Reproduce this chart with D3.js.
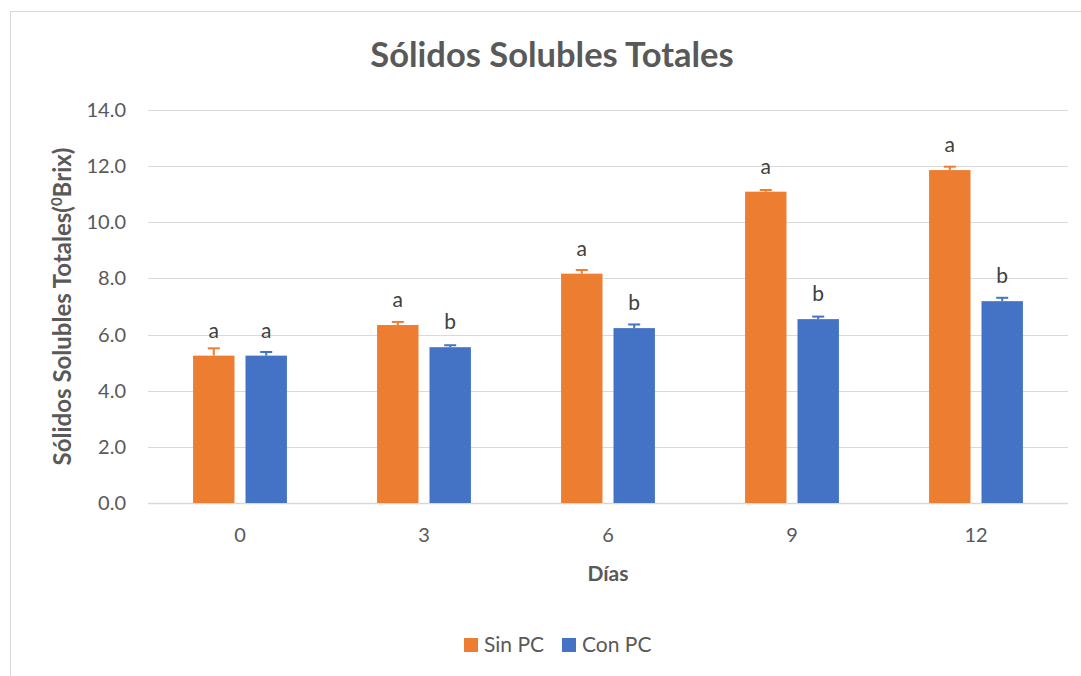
<!DOCTYPE html>
<html lang="es">
<head>
    <meta charset="utf-8" />
    <title>Sólidos Solubles Totales</title>
    <script src="https://d3js.org/d3.v7.min.js"></script>
    <style>
        body {
            margin: 0;
            padding: 0;
            background: white;
        }
        svg text {
            font-family: Lato, "Open Sans", sans-serif;
        }
    </style>
</head>
<body>
<svg id="chart"></svg>
<script>
    var w = 1081;
    var h = 676;

    // Data
    var dias = ["0", "3", "6", "9", "12"];
    var seriesNames = ["Sin PC", "Con PC"];
    var sinPC = [5.25, 6.34, 8.17, 11.09, 11.86];
    var conPC = [5.25, 5.55, 6.23, 6.55, 7.19];
    var sinErr = [0.26, 0.11, 0.13, 0.06, 0.12];
    var conErr = [0.13, 0.07, 0.13, 0.09, 0.12];
    var sinLetters = ["a", "a", "a", "a", "a"];
    var conLetters = ["a", "b", "b", "b", "b"];
    var yTicks = [0, 2, 4, 6, 8, 10, 12, 14];
    var colors = ["#ED7D31", "#4472C4"];

    var plot = {left: 148, right: 1068, top: 110, bottom: 503};

    var svg = d3.select("#chart")
                .attr("width", w)
                .attr("height", h);

    // Outer chart border (only top and left visible in picture)
    svg.append("rect")
        .attr("x", 10.5)
        .attr("y", 11.5)
        .attr("width", w + 20)
        .attr("height", h + 20)
        .attr("fill", "white")
        .attr("stroke", "#d9d9d9")
        .attr("stroke-width", 1);

    var xScale = d3.scaleBand()
                .domain(dias)
                .range([plot.left, plot.right])
                .paddingInner(0.49)
                .paddingOuter(0.245);

    var xSub = d3.scaleBand()
                .domain(seriesNames)
                .range([0, xScale.bandwidth()])
                .paddingInner(0.21);

    var yScale = d3.scaleLinear()
                .domain([0, 14])
                .range([plot.bottom, plot.top]);

    // Gridlines
    svg.append("g")
        .selectAll("line")
        .data(yTicks)
        .enter().append("line")
        .attr("x1", plot.left)
        .attr("x2", plot.right)
        .attr("y1", function(d) { return Math.round(yScale(d)) + 0.5; })
        .attr("y2", function(d) { return Math.round(yScale(d)) + 0.5; })
        .attr("stroke", "#d9d9d9")
        .attr("stroke-width", function(d) { return d === 0 ? 1.5 : 1; });

    // Y tick labels
    svg.append("g")
        .selectAll("text")
        .data(yTicks)
        .enter().append("text")
        .attr("x", 126)
        .attr("y", function(d) { return yScale(d); })
        .attr("dy", "0.35em")
        .attr("text-anchor", "end")
        .attr("font-size", "20px")
        .attr("fill", "#595959")
        .text(function(d) { return d.toFixed(1); });

    // X tick labels
    svg.append("g")
        .selectAll("text")
        .data(dias)
        .enter().append("text")
        .attr("x", function(d) { return xScale(d) + xScale.bandwidth() / 2; })
        .attr("y", 542)
        .attr("text-anchor", "middle")
        .attr("font-size", "20px")
        .attr("fill", "#595959")
        .text(function(d) { return d; });

    // Build table for the bars
    var rows = [];
    dias.forEach(function(d, i) {
        rows.push({dia: d, serie: "Sin PC", v: sinPC[i], err: sinErr[i], letter: sinLetters[i], color: colors[0]});
        rows.push({dia: d, serie: "Con PC", v: conPC[i], err: conErr[i], letter: conLetters[i], color: colors[1]});
    });

    function barX(d) {
        return xScale(d.dia) + xSub(d.serie);
    }
    function barMid(d) {
        return barX(d) + xSub.bandwidth() / 2;
    }

    // Bars
    svg.append("g")
        .selectAll("rect")
        .data(rows)
        .enter().append("rect")
        .attr("x", barX)
        .attr("y", function(d) { return yScale(d.v); })
        .attr("width", xSub.bandwidth())
        .attr("height", function(d) { return plot.bottom - yScale(d.v); })
        .attr("fill", function(d) { return d.color; });

    // Error bars (plus only)
    var eb = svg.append("g");
    eb.selectAll(".stem")
        .data(rows)
        .enter().append("line")
        .attr("x1", barMid)
        .attr("x2", barMid)
        .attr("y1", function(d) { return yScale(d.v); })
        .attr("y2", function(d) { return yScale(d.v + d.err); })
        .attr("stroke", function(d) { return d.color; })
        .attr("stroke-width", 2);
    eb.selectAll(".cap")
        .data(rows)
        .enter().append("line")
        .attr("x1", function(d) { return barMid(d) - 6; })
        .attr("x2", function(d) { return barMid(d) + 6; })
        .attr("y1", function(d) { return yScale(d.v + d.err); })
        .attr("y2", function(d) { return yScale(d.v + d.err); })
        .attr("stroke", function(d) { return d.color; })
        .attr("stroke-width", 2);

    // Significance letters
    svg.append("g")
        .selectAll("text")
        .data(rows)
        .enter().append("text")
        .attr("x", barMid)
        .attr("y", function(d) { return yScale(d.v) - 18; })
        .attr("text-anchor", "middle")
        .attr("font-size", "21px")
        .attr("fill", "#404040")
        .text(function(d) { return d.letter; });

    // Title
    svg.append("text")
        .attr("x", 552)
        .attr("y", 67)
        .attr("text-anchor", "middle")
        .attr("font-size", "34.5px")
        .attr("font-weight", "bold")
        .attr("fill", "#595959")
        .text("Sólidos Solubles Totales");

    // Y axis title with superscript 0
    var yTitle = svg.append("text")
        .attr("transform", "translate(71," + ((plot.top + plot.bottom) / 2) + ") rotate(-90)")
        .attr("text-anchor", "middle")
        .attr("font-size", "24px")
        .attr("font-weight", "bold")
        .attr("fill", "#595959");
    yTitle.append("tspan").text("Sólidos Solubles Totales(");
    yTitle.append("tspan")
        .attr("font-size", "15px")
        .attr("dy", "-9")
        .text("0");
    yTitle.append("tspan")
        .attr("dy", "9")
        .text("Brix)");

    // X axis title
    svg.append("text")
        .attr("x", (plot.left + plot.right) / 2)
        .attr("y", 581)
        .attr("text-anchor", "middle")
        .attr("font-size", "21px")
        .attr("font-weight", "bold")
        .attr("fill", "#595959")
        .text("Días");

    // Legend
    var legendX = [464, 562];
    var legend = svg.append("g")
        .selectAll("g")
        .data(seriesNames)
        .enter().append("g")
        .attr("transform", function(d, i) { return "translate(" + legendX[i] + ",638)"; });
    legend.append("rect")
        .attr("width", 14)
        .attr("height", 14)
        .attr("fill", function(d, i) { return colors[i]; });
    legend.append("text")
        .attr("x", 20)
        .attr("y", 14)
        .attr("font-size", "21px")
        .attr("fill", "#595959")
        .text(function(d) { return d; });
</script>
</body>
</html>
